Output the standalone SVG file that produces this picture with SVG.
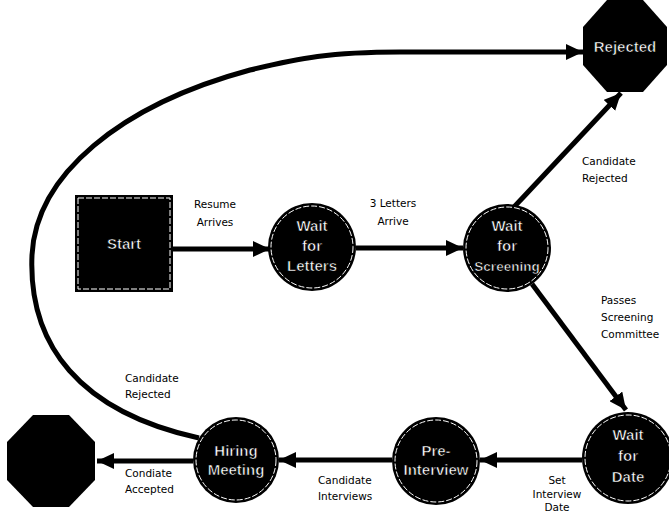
<svg xmlns="http://www.w3.org/2000/svg" width="669" height="516" viewBox="0 0 669 516">
<style>
.node{fill:#000;}
.ring{fill:none;stroke:#fff;stroke-width:1;stroke-dasharray:6 2;}
.nt{fill:#fff;stroke:#000;stroke-width:0.6;font-family:"Liberation Sans",Arial,sans-serif;font-weight:bold;font-size:15px;text-anchor:middle;}
.lbl{fill:#000;font-family:"DejaVu Sans",sans-serif;font-size:10.5px;}
.mid{text-anchor:middle;}
.edge{fill:none;stroke:#000;stroke-width:5;}
</style>
<defs>
<marker id="ah" markerUnits="userSpaceOnUse" markerWidth="18" markerHeight="16" refX="17" refY="8" orient="auto">
<path d="M0,0 L17,8 L0,16 z" fill="#000"/>
</marker>
</defs>
<rect width="669" height="516" fill="#fff"/>
<g id="connectors">
<path class="edge" marker-end="url(#ah)" d="M173,249 L270,249"/>
<path class="edge" marker-end="url(#ah)" d="M356,248 L463,248"/>
<path class="edge" marker-end="url(#ah)" d="M514,207 L621,93"/>
<path class="edge" marker-end="url(#ah)" d="M532,284 L626,410"/>
<path class="edge" marker-end="url(#ah)" d="M582,460 L480,460"/>
<path class="edge" marker-end="url(#ah)" d="M392,460 L279,460"/>
<path class="edge" marker-end="url(#ah)" d="M193,461 L97,461"/>
<path class="edge" marker-end="url(#ah)" d="M199,438 C80,412 28,345 32,255 C36,175 120,105 250,70 C300,58 330,52 400,52 L583,52"/>
<text class="lbl mid" x="215" y="208">Resume</text>
<text class="lbl mid" x="215" y="226">Arrives</text>
<text class="lbl mid" x="393" y="207">3 Letters</text>
<text class="lbl mid" x="393" y="225">Arrive</text>
<text class="lbl" x="582" y="165">Candidate</text>
<text class="lbl" x="582" y="182">Rejected</text>
<text class="lbl" x="601" y="304">Passes</text>
<text class="lbl" x="601" y="321">Screening</text>
<text class="lbl" x="601" y="338">Committee</text>
<text class="lbl mid" x="557" y="484">Set</text>
<text class="lbl mid" x="557" y="498">Interview</text>
<text class="lbl mid" x="557" y="511">Date</text>
<text class="lbl" x="318" y="484">Candidate</text>
<text class="lbl" x="318" y="500">Interviews</text>
<text class="lbl" x="125" y="382">Candidate</text>
<text class="lbl" x="125" y="398">Rejected</text>
<text class="lbl" x="125" y="477">Condiate</text>
<text class="lbl" x="125" y="493">Accepted</text>
</g>
<g id="rejected">
<polygon class="node" points="607,0 643,0 667,27 667,65 643,92 607,92 583,65 583,27"/>
<text class="nt" x="625" y="52">Rejected</text>
</g>
<g id="start">
<rect class="node" x="75" y="195" width="98" height="97"/>
<rect class="ring" x="78" y="198" width="92" height="91"/>
<text class="nt" x="124" y="249">Start</text>
</g>
<g id="wait-letters">
<circle class="node" cx="312" cy="247" r="44"/>
<circle class="ring" cx="312" cy="247" r="41"/>
<text class="nt" x="312" y="231">Wait</text>
<text class="nt" x="312" y="251">for</text>
<text class="nt" x="312" y="271">Letters</text>
</g>
<g id="wait-screening">
<circle class="node" cx="507" cy="248" r="44"/>
<circle class="ring" cx="507" cy="248" r="41"/>
<text class="nt" x="507" y="231">Wait</text>
<text class="nt" x="507" y="251">for</text>
<text class="nt" x="507" y="271" style="font-size:13.5px">Screening</text>
</g>
<g id="wait-date">
<circle class="node" cx="628" cy="458" r="46"/>
<circle class="ring" cx="628" cy="458" r="43"/>
<text class="nt" x="628" y="440">Wait</text>
<text class="nt" x="628" y="461">for</text>
<text class="nt" x="628" y="482">Date</text>
</g>
<g id="pre-interview">
<circle class="node" cx="436" cy="461" r="44"/>
<circle class="ring" cx="436" cy="461" r="41"/>
<text class="nt" x="436" y="456">Pre-</text>
<text class="nt" x="436" y="475">Interview</text>
</g>
<g id="hiring-meeting">
<circle class="node" cx="236" cy="460" r="43"/>
<circle class="ring" cx="236" cy="460" r="40"/>
<text class="nt" x="236" y="456">Hiring</text>
<text class="nt" x="236" y="475">Meeting</text>
</g>
<g id="accepted">
<polygon class="node" points="33,415 69,415 95,442 95,480 69,507 33,507 7,480 7,442"/>
</g>
</svg>
